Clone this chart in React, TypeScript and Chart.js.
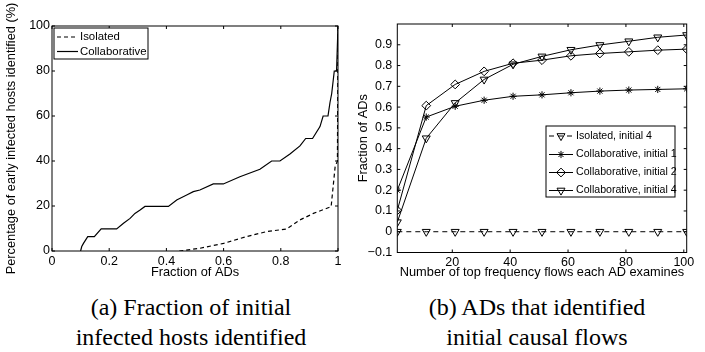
import React, { useEffect, useRef } from "react";
import { Chart, registerables } from "chart.js";
import { drawPoint } from "chart.js/helpers";

Chart.register(...registerables);

const SANS = "'Liberation Sans', Arial, Helvetica, sans-serif";
const SERIF = "'Liberation Serif', 'Times New Roman', serif";

// ---------- (a) data ----------
const collabFrac = [0.1, 0.104, 0.11, 0.125, 0.148, 0.172, 0.226, 0.25, 0.273, 0.29, 0.308, 0.325, 0.407, 0.436, 0.471, 0.494, 0.517, 0.564, 0.599, 0.657, 0.727, 0.768, 0.797, 0.832, 0.867, 0.887, 0.911, 0.937, 0.948, 0.965, 0.972, 0.978, 0.987, 0.995, 1.0];
const collabPct = [0, 2, 3.4, 6.4, 6.4, 9.8, 9.8, 12.3, 14.5, 16.7, 18.2, 19.8, 19.8, 22.7, 24.9, 26.4, 27.1, 29.8, 29.8, 33, 36.3, 40, 40, 43.1, 46.7, 50, 50, 55.3, 60, 60, 66, 70, 80, 80, 100];
const isoFrac = [0.445, 0.47, 0.517, 0.6, 0.68, 0.75, 0.82, 0.867, 0.914, 0.976, 0.99, 0.998, 1.0];
const isoPct = [0, 0.4, 1.2, 3.4, 6.4, 8.6, 9.8, 13.8, 16.7, 19.7, 37.5, 40, 100];
const leftXTicks = [0, 0.2, 0.4, 0.6, 0.8, 1];
const leftYTicks = [0, 20, 40, 60, 80, 100];

// ---------- (b) data ----------
const flowCounts = [1, 11, 21, 31, 41, 51, 61, 71, 81, 91, 101];
const isolated4 = [0, 0, 0, 0, 0, 0, 0, 0, 0, 0, 0];
const collab1 = [0.2, 0.552, 0.604, 0.633, 0.652, 0.659, 0.669, 0.677, 0.682, 0.685, 0.688];
const collab2 = [0.103, 0.607, 0.709, 0.772, 0.811, 0.826, 0.847, 0.858, 0.866, 0.874, 0.879];
const collab4 = [0.046, 0.45, 0.62, 0.733, 0.806, 0.844, 0.876, 0.899, 0.917, 0.936, 0.947];
const rightXTicks = [20, 40, 60, 80, 100];
const rightYTicks = [-0.1, 0, 0.1, 0.2, 0.3, 0.4, 0.5, 0.6, 0.7, 0.8, 0.9];

const framePlugin = {
  id: "matlabFrame",
  afterDatasetsDraw(chart: any) {
    const { ctx, chartArea, scales } = chart;
    const { left, right, top, bottom } = chartArea;
    const L = 3;
    ctx.save();
    ctx.strokeStyle = "#000";
    ctx.lineWidth = 1;
    ctx.setLineDash([]);
    ctx.beginPath();
    for (const t of scales.x.ticks) {
      const px = scales.x.getPixelForValue(t.value);
      ctx.moveTo(px, bottom);
      ctx.lineTo(px, bottom - L);
      ctx.moveTo(px, top);
      ctx.lineTo(px, top + L);
    }
    for (const t of scales.y.ticks) {
      const py = scales.y.getPixelForValue(t.value);
      ctx.moveTo(left, py);
      ctx.lineTo(left + L, py);
      ctx.moveTo(right, py);
      ctx.lineTo(right - L, py);
    }
    ctx.stroke();
    ctx.strokeRect(left, top, right - left, bottom - top);
    ctx.restore();
  },
};

const legendPlugin = {
  id: "matlabLegend",
  afterDraw(chart: any, _args: any, opts: any) {
    if (!opts || !opts.box) return;
    const { ctx } = chart;
    const [bx, by, bw, bh] = opts.box;
    ctx.save();
    ctx.fillStyle = "#fff";
    ctx.fillRect(bx, by, bw, bh);
    ctx.strokeStyle = "#000";
    ctx.lineWidth = 1;
    ctx.setLineDash([]);
    ctx.strokeRect(bx, by, bw, bh);
    chart.data.datasets.forEach((ds: any, i: number) => {
      const y = opts.rows[i];
      ctx.strokeStyle = "#000";
      ctx.lineWidth = ds.borderWidth || 1;
      ctx.setLineDash(ds.borderDash || []);
      ctx.beginPath();
      ctx.moveTo(opts.lineX[0], y);
      ctx.lineTo(opts.lineX[1], y);
      ctx.stroke();
      ctx.setLineDash([]);
      if (ds.pointRadius > 0) {
        ctx.fillStyle = "rgba(0,0,0,0)";
        ctx.lineWidth = ds.pointBorderWidth || 1;
        drawPoint(ctx, {
          pointStyle: ds.pointStyle,
          rotation: ds.pointRotation || 0,
          radius: ds.pointRadius,
          borderWidth: ds.pointBorderWidth || 1,
        } as any, (opts.lineX[0] + opts.lineX[1]) / 2, y);
      }
      ctx.fillStyle = "#000";
      ctx.font = `${opts.fontSize}px ${SANS}`;
      ctx.textBaseline = "middle";
      ctx.textAlign = "left";
      ctx.fillText(ds.label, opts.textX, y);
    });
    ctx.restore();
  },
};

function axisCommon(extra: any) {
  return {
    type: "linear",
    grid: { display: false, drawTicks: false },
    border: { display: false },
    ...extra,
  };
}

function LeftChart() {
  const ref = useRef<HTMLCanvasElement>(null);
  useEffect(() => {
    const chart = new Chart(ref.current as HTMLCanvasElement, {
      type: "line",
      data: {
        datasets: [
          {
            label: "Isolated",
            data: isoFrac.map((x, i) => ({ x, y: isoPct[i] })),
            borderColor: "#000",
            borderWidth: 1.2,
            borderDash: [4, 3],
            pointRadius: 0,
            fill: false,
            tension: 0,
          },
          {
            label: "Collaborative",
            data: collabFrac.map((x, i) => ({ x, y: collabPct[i] })),
            borderColor: "#000",
            borderWidth: 1.2,
            pointRadius: 0,
            fill: false,
            tension: 0,
          },
        ],
      },
      options: {
        responsive: false,
        animation: false,
        events: [],
        layout: { padding: { top: 26, right: 14, left: 0, bottom: 0 } },
        plugins: {
          legend: { display: false },
          tooltip: { enabled: false },
          matlabLegend: {
            box: [54, 28, 94, 31],
            rows: [37, 51.5],
            lineX: [57, 78],
            textX: 80,
            fontSize: 11.4,
          },
        } as any,
        scales: {
          x: axisCommon({
            min: 0,
            max: 1,
            afterBuildTicks: (s: any) => {
              s.ticks = leftXTicks.map((v) => ({ value: v }));
            },
            afterFit: (s: any) => {
              s.height = 34;
            },
            ticks: {
              color: "#000",
              font: { family: SANS, size: 12.5 },
              padding: 3,
              maxRotation: 0,
              autoSkip: false,
              callback: (v: any) => String(v),
            },
            title: {
              display: true,
              text: "Fraction of ADs",
              color: "#000",
              font: { family: SANS, size: 12.8 },
              padding: { top: 0, bottom: 4.5 },
            },
          }),
          y: axisCommon({
            min: 0,
            max: 100,
            afterBuildTicks: (s: any) => {
              s.ticks = leftYTicks.map((v) => ({ value: v }));
            },
            afterFit: (s: any) => {
              s.width = 52;
            },
            ticks: {
              color: "#000",
              font: { family: SANS, size: 12.5 },
              padding: 2,
              autoSkip: false,
              callback: (v: any) => String(v),
            },
            title: {
              display: true,
              text: "Percentage of early infected hosts identified (%)",
              color: "#000",
              font: { family: SANS, size: 12.8 },
              padding: { top: 3.5, bottom: 0 },
            },
          }),
        } as any,
      },
      plugins: [framePlugin, legendPlugin],
    } as any);
    return () => chart.destroy();
  }, []);
  return (
    <canvas
      ref={ref}
      width={352}
      height={285}
      style={{ position: "absolute", left: 0, top: 0, width: 352, height: 285 }}
    />
  );
}

function RightChart() {
  const ref = useRef<HTMLCanvasElement>(null);
  useEffect(() => {
    const mk = (label: string, data: number[], style: any, extra: any = {}) => ({
      label,
      data: flowCounts.map((x, i) => ({ x, y: data[i] })),
      borderColor: "#000",
      borderWidth: 1,
      pointBorderColor: "#000",
      pointBackgroundColor: "rgba(0,0,0,0)",
      pointBorderWidth: 1,
      fill: false,
      tension: 0,
      ...style,
      ...extra,
    });
    const chart = new Chart(ref.current as HTMLCanvasElement, {
      type: "line",
      data: {
        datasets: [
          mk("Isolated, initial 4", isolated4, { pointStyle: "triangle", pointRotation: 180, pointRadius: 4.6 }, { borderDash: [5, 4] }),
          mk("Collaborative, initial 1", collab1, { pointStyle: "star", pointRadius: 3.6 }),
          mk("Collaborative, initial 2", collab2, { pointStyle: "rectRot", pointRadius: 4.4 }),
          mk("Collaborative, initial 4", collab4, { pointStyle: "triangle", pointRotation: 180, pointRadius: 4.6 }),
        ],
      },
      options: {
        responsive: false,
        animation: false,
        events: [],
        layout: { padding: { top: 24, right: 18.3, left: 0, bottom: 0 } },
        plugins: {
          legend: { display: false },
          tooltip: { enabled: false },
          matlabLegend: {
            box: [194, 126, 129, 71],
            rows: [136, 154.5, 172.5, 190.5],
            lineX: [197, 221],
            textX: 224,
            fontSize: 10.6,
          },
        } as any,
        scales: {
          x: axisCommon({
            min: 1,
            max: 101,
            afterBuildTicks: (s: any) => {
              s.ticks = rightXTicks.map((v) => ({ value: v }));
            },
            afterFit: (s: any) => {
              s.height = 32.5;
            },
            ticks: {
              color: "#000",
              font: { family: SANS, size: 12.5 },
              padding: 3,
              maxRotation: 0,
              autoSkip: false,
              callback: (v: any) => String(v),
            },
            title: {
              display: true,
              text: "Number of top frequency flows each AD examines",
              color: "#000",
              font: { family: SANS, size: 12.8 },
              padding: { top: 0, bottom: 4.5 },
            },
          }),
          y: axisCommon({
            min: -0.1,
            max: 1.0,
            afterBuildTicks: (s: any) => {
              s.ticks = rightYTicks.map((v) => ({ value: v }));
            },
            afterFit: (s: any) => {
              s.width = 45.3;
            },
            ticks: {
              color: "#000",
              font: { family: SANS, size: 12.5 },
              padding: 5,
              autoSkip: false,
              callback: (v: any) => {
                const n = Math.round(v * 10) / 10;
                if (n === 0) return "0";
                const s = Math.abs(n).toFixed(1);
                return n < 0 ? "\u2212" + s : s;
              },
            },
            title: {
              display: true,
              text: "Fraction of ADs",
              color: "#000",
              font: { family: SANS, size: 12.8 },
              padding: { top: 3.5, bottom: 0 },
            },
          }),
        } as any,
      },
      plugins: [framePlugin, legendPlugin],
    } as any);
    return () => chart.destroy();
  }, []);
  return (
    <canvas
      ref={ref}
      width={353}
      height={285}
      style={{ position: "absolute", left: 352, top: 0, width: 353, height: 285 }}
    />
  );
}

const captionStyle: React.CSSProperties = {
  position: "absolute",
  top: 292,
  width: 300,
  textAlign: "center",
  fontFamily: SERIF,
  fontSize: 24,
  lineHeight: "30px",
  color: "#000",
  whiteSpace: "nowrap",
};

export default function App() {
  useEffect(() => {
    document.body.style.margin = "0";
  }, []);
  return (
    <div style={{ position: "absolute", left: 0, top: 0, width: 705, height: 352, background: "#fff", overflow: "hidden" }}>
      <LeftChart />
      <RightChart />
      <div style={{ ...captionStyle, left: 191 - 150 }}>
        (a) Fraction of initial
        <br />
        infected hosts identified
      </div>
      <div style={{ ...captionStyle, left: 537 - 150 }}>
        (b) ADs that identified
        <br />
        initial causal flows
      </div>
    </div>
  );
}
